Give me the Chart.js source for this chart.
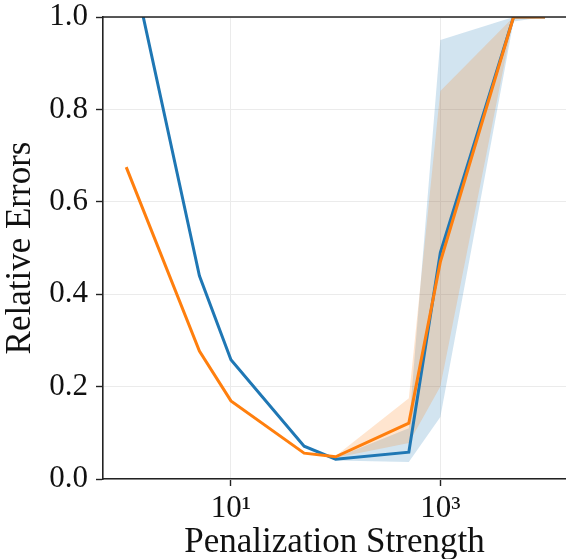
<!DOCTYPE html>
<html>
<head>
<meta charset="utf-8">
<script src="https://cdn.jsdelivr.net/npm/chart.js@4/dist/chart.umd.min.js"></script>
<style>
  body { margin: 0; overflow: hidden; background: #fff; }
  canvas { display: block; }
</style>
</head>
<body>
<canvas id="errorsChart" width="566" height="580"></canvas>
<script>
// Dados
const strengths = [1, 5, 10, 50, 100, 500, 1000, 5000, 10000];
const blueMean = [1.17, 0.44, 0.258, 0.071, 0.043, 0.058, 0.49, 1.0, 1.0];
const blueLow = [1.17, 0.44, 0.258, 0.071, 0.040, 0.037, 0.134, 0.99, 1.0];
const blueHigh = [1.17, 0.44, 0.258, 0.071, 0.046, 0.110, 0.950, 1.0, 1.0];
const orangeMean = [0.675, 0.277, 0.169, 0.056, 0.048, 0.121, 0.47, 1.0, 1.0];
const orangeLow = [0.675, 0.277, 0.169, 0.056, 0.046, 0.078, 0.20, 1.0, 1.0];
const orangeHigh = [0.675, 0.277, 0.169, 0.056, 0.050, 0.175, 0.84, 1.0, 1.0];
const xTicks = [10, 1000];
const xTickLabels = ['10\u00b9', '10\u00b3'];
const yTicks = [0, 0.2, 0.4, 0.6, 0.8, 1.0];

const BLUE = '#1f77b4';
const ORANGE = '#ff7f0e';
const FONT = "'Liberation Serif', 'Times New Roman', serif";

function points(values) {
  return strengths.map((s, i) => ({ x: s, y: values[i] }));
}

// Faixa sombreada (order maior = desenhada antes)
function band(values, color, fillTarget, order) {
  return {
    data: points(values),
    borderWidth: 0,
    pointRadius: 0,
    backgroundColor: color,
    fill: fillTarget,
    order: order,
  };
}

// Linha superior do quadro (spine de cima)
const topSpine = {
  id: 'topSpine',
  afterDraw(chart) {
    const { ctx, chartArea } = chart;
    ctx.save();
    ctx.strokeStyle = '#222';
    ctx.lineWidth = 1.6;
    ctx.beginPath();
    ctx.moveTo(chartArea.left, chartArea.top);
    ctx.lineTo(chartArea.right, chartArea.top);
    ctx.stroke();
    ctx.restore();
  },
};

const ctx = document.getElementById('errorsChart').getContext('2d');
const chart = new Chart(ctx, {
  type: 'line',
  data: {
    datasets: [
      {
        data: points(orangeMean),
        borderColor: ORANGE,
        borderWidth: 3,
        pointRadius: 0,
        fill: false,
        order: 0,
      },
      {
        data: points(blueMean),
        borderColor: BLUE,
        borderWidth: 3,
        pointRadius: 0,
        fill: false,
        order: 1,
      },
      band(blueLow, 'rgba(0,0,0,0)', false, 12),
      band(blueHigh, 'rgba(31,119,180,0.2)', 2, 12),
      band(orangeLow, 'rgba(0,0,0,0)', false, 11),
      band(orangeHigh, 'rgba(255,127,14,0.2)', 4, 11),
    ],
  },
  options: {
    responsive: false,
    animation: false,
    layout: { padding: { top: 17, right: 0, left: 0, bottom: 0 } },
    plugins: {
      legend: { display: false },
      tooltip: { enabled: false },
      filler: { drawTime: 'beforeDatasetsDraw' },
    },
    elements: { line: { tension: 0 } },
    scales: {
      x: {
        type: 'logarithmic',
        min: Math.pow(10, -0.2),
        max: Math.pow(10, 4.2),
        afterBuildTicks: (scale) => {
          scale.ticks = xTicks.map((v) => ({ value: v }));
        },
        afterFit: (scale) => {
          scale.height = 101;
        },
        ticks: {
          autoSkip: false,
          maxRotation: 0,
          padding: 4,
          color: '#111',
          font: { family: FONT, size: 31 },
          callback: (value) => xTickLabels[xTicks.indexOf(value)],
        },
        grid: { color: '#ebebeb', lineWidth: 1, tickLength: 7, tickColor: '#222', tickWidth: 1.4 },
        border: { display: true, color: '#222', width: 1.6 },
        title: {
          display: true,
          text: 'Penalization Strength',
          color: '#111',
          font: { family: FONT, size: 35 },
          padding: { top: 0, bottom: 16 },
        },
      },
      y: {
        min: 0,
        max: 1,
        afterBuildTicks: (scale) => {
          scale.ticks = yTicks.map((v) => ({ value: v }));
        },
        afterFit: (scale) => {
          scale.width = 103;
          scale.paddingTop = 0;
          scale.paddingBottom = 0;
        },
        ticks: {
          padding: 8,
          color: '#111',
          font: { family: FONT, size: 31 },
          callback: (value) => value.toFixed(1),
        },
        grid: { color: '#ebebeb', lineWidth: 1, tickLength: 7, tickColor: '#222', tickWidth: 1.4 },
        border: { display: true, color: '#222', width: 1.6 },
        title: {
          display: true,
          text: 'Relative Errors',
          color: '#111',
          font: { family: FONT, size: 35 },
          padding: { top: 0, bottom: 0 },
        },
      },
    },
  },
  plugins: [topSpine],
});
</script>
</body>
</html>
